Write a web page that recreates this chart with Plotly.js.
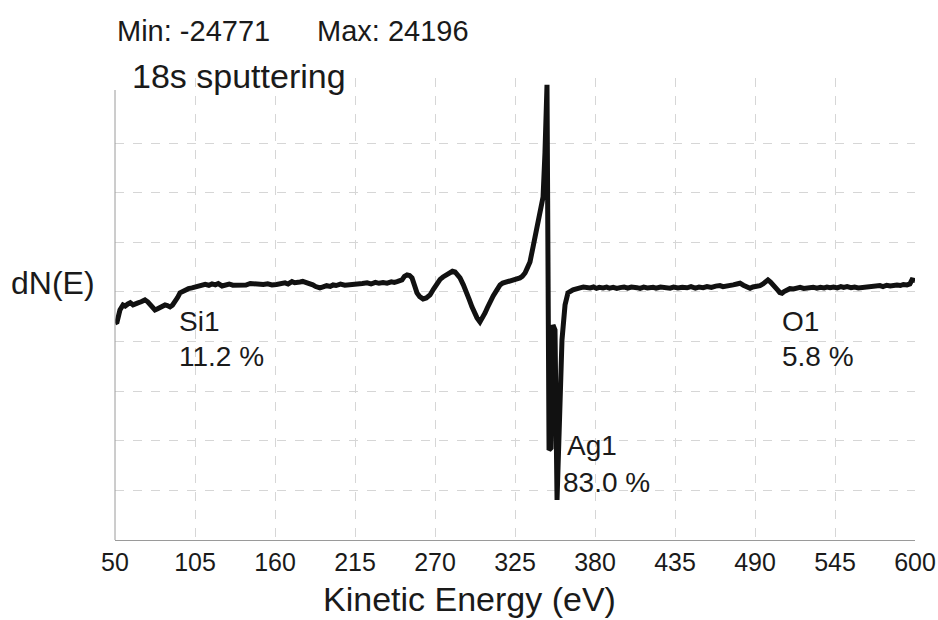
<!DOCTYPE html>
<html>
<head>
<meta charset="utf-8">
<script src="https://cdn.plot.ly/plotly-3.0.1.min.js"></script>
<style>html,body{margin:0;padding:0;background:#fff;}#chart{width:938px;height:620px;}</style>
</head>
<body>
<div id="chart"></div>
<script>
// Kinetic energy (eV)
const energy = [50,51.4,52.5,53.4,55.5,57,58.9,60.5,62.4,64,65.8,68,70.6,72.5,74.1,76,77.5,79,80.9,82.5,84.4,86,87.8,89.5,91.3,93,94.7,96.5,98.1,100.5,102.9,105,107.5,109.8,112,114.5,116.7,119,121,123.6,126,128.5,131,134.6,137,140,143,146.3,149,152,155,157.9,161,164,166.9,169,171.7,173.5,175.8,177.2,179,181,184.1,186,188,190.9,193,195.5,198,199.9,202,205,208,211.6,214,217,220,223.3,226,229,231.5,234.3,237,240,242,243.9,245.5,247.3,249,250.8,252.5,254.2,256,257.6,259.5,261.8,264,266.6,269,271.4,273.5,275.5,278,280.3,282,283.8,285.5,287.2,289.5,292,293.7,295.4,297.2,298.9,300.9,302.5,304.4,306,307.8,310,312.6,314.7,316.5,318.5,321.6,324,326,328.4,330,331.9,333.5,335.3,337.4,339,340.8,342.5,344.3,345.6,347.0,348.4,349.8,351.1,352.5,353.9,355.3,356.5,357.3,359.4,361.4,364.9,367,369.7,372,374.5,376.6,379,381,383,385.5,388,390,392.5,395,397.2,400,402.5,405,408.9,411,413.5,416,419.9,422,425,428,431.6,434,437,440,443.3,446,449,451.5,454.3,457,460,463,465.9,468,470.5,472.8,475,477.5,479.7,482,484.5,486.6,488.5,491,493.4,495.5,497,498.9,500.5,502,503.8,505.5,507,508.6,510,512,514,516.5,518.9,521,523.5,526,528,530,532.5,535,537.5,539.5,541.6,544,546.5,549,551,553.3,556,558.5,561,564.3,567,569.5,572,575.9,578,580.5,583,585.5,587.6,590,592,594.5,596.5,597.9,599.3,600];
// dN(E) counts
const counts = [-3890,-3780,-3000,-2360,-1770,-1900,-1650,-1500,-1770,-1600,-1530,-1400,-1180,-1400,-1770,-2100,-2360,-2250,-2120,-1950,-1770,-1850,-2000,-1800,-1420,-900,-350,-150,0,150,240,300,500,470,650,550,710,600,750,470,600,700,560,590,700,580,760,710,600,640,720,590,650,760,830,700,980,850,830,940,1000,900,830,600,400,240,350,500,420,590,520,680,560,590,700,620,760,830,700,900,780,860,800,950,880,980,1050,1180,1600,1770,1700,1420,500,-350,-800,-1060,-950,-590,100,830,1250,1530,1850,2120,2200,2120,1800,1420,600,-350,-1200,-2000,-2800,-3300,-3780,-3400,-2710,-2100,-1420,-700,0,590,800,900,1060,1100,1250,1420,1600,2000,2600,3300,5070,6500,8260,9800,10970,16170,24196,-18880,-18640,-4130,-4720,-24771,-15340,-9000,-5900,-1770,-350,0,150,240,330,200,240,350,180,300,240,330,200,310,180,270,350,200,330,270,180,330,240,300,200,330,250,200,330,220,300,250,380,220,330,270,400,300,450,510,380,450,390,600,700,790,550,390,200,350,420,510,700,950,1180,950,600,390,0,-300,-390,-200,0,150,120,200,300,180,270,200,320,200,300,230,330,270,350,250,400,300,390,270,350,240,300,420,330,480,510,400,550,460,600,590,520,640,590,700,1180,1060,1100];
const xTickStart = 50, xTickStep = 55;
const peakLabels = ["Si1", "11.2 %", "O1", "5.8 %", "Ag1", "83.0 %"];
const peakLabelEnergy = [92.6, 92.6, 507.2, 507.2, 359.4, 356.6];
const peakLabelY = [0.4719, 0.397, 0.4719, 0.397, 0.2035, 0.1234];
const minText = "Min: -24771", maxText = "Max: 24196";
const titleText = "18s sputtering";

const font = "Liberation Sans, Arial, Helvetica, sans-serif";
const gridY = [];
for (let i = 0; i < 8; i++) gridY.push(-23636 + i * 5850);

const annotations = peakLabels.map((t, i) => ({
  text: t, x: peakLabelEnergy[i], xref: 'x', y: peakLabelY[i], yref: 'paper',
  xanchor: 'left', yanchor: 'middle', showarrow: false,
  font: {family: font, size: 28, color: '#1a1a1a'}
}));
annotations.push({text: minText, x: 0.0, xref: 'paper', y: 1.1017, yref: 'paper', xanchor: 'left', yanchor: 'middle', showarrow: false, font: {family: font, size: 29, color: '#1a1a1a'}});
annotations.push({text: maxText, x: 0.2505, xref: 'paper', y: 1.1017, yref: 'paper', xanchor: 'left', yanchor: 'middle', showarrow: false, font: {family: font, size: 29, color: '#1a1a1a'}});
annotations.push({text: "dN(E)", x: -0.132, xref: 'paper', y: 0.556, yref: 'paper', xanchor: 'left', yanchor: 'middle', showarrow: false, font: {family: font, size: 32, color: '#1a1a1a'}});
annotations.push({text: "Kinetic Energy (eV)", x: 0.4425, xref: 'paper', y: -0.127, yref: 'paper', xanchor: 'center', yanchor: 'middle', showarrow: false, font: {family: font, size: 34, color: '#1a1a1a'}});

const trace = {
  x: energy, y: counts, type: 'scatter', mode: 'lines',
  line: {color: '#111111', width: 5, shape: 'linear'},
  hoverinfo: 'x+y'
};

const layout = {
  width: 938, height: 620,
  margin: {l: 115, r: 23, t: 78, b: 80},
  paper_bgcolor: '#ffffff', plot_bgcolor: '#ffffff',
  showlegend: false,
  title: {text: titleText, x: 132/938, xref: 'container', xanchor: 'left', y: 1 - 76/620, yref: 'container', yanchor: 'middle', font: {family: font, size: 34, color: '#1a1a1a'}},
  xaxis: {
    range: [50, 600], tickmode: 'linear', tick0: xTickStart, dtick: xTickStep,
    showgrid: true, gridcolor: '#d6d6d6', griddash: 'dash', gridwidth: 1,
    showline: true, linecolor: '#9a9a9a', linewidth: 1, zeroline: false,
    ticks: '', tickfont: {family: font, size: 25, color: '#1a1a1a'}, ticklabelstandoff: 0
  },
  yaxis: {
    range: [-29500, 25000], tickmode: 'array', tickvals: gridY,
    showticklabels: false, showgrid: true, gridcolor: '#d6d6d6', griddash: 'dash', gridwidth: 1,
    showline: false, zeroline: false, ticks: ''
  },
  shapes: [{type: 'line', xref: 'paper', yref: 'paper', x0: 0, x1: 0, y0: 0, y1: 0.974, line: {color: '#9a9a9a', width: 1}}],
  annotations: annotations
};

Plotly.newPlot('chart', [trace], layout, {displayModeBar: false, staticPlot: true});
</script>
</body>
</html>
